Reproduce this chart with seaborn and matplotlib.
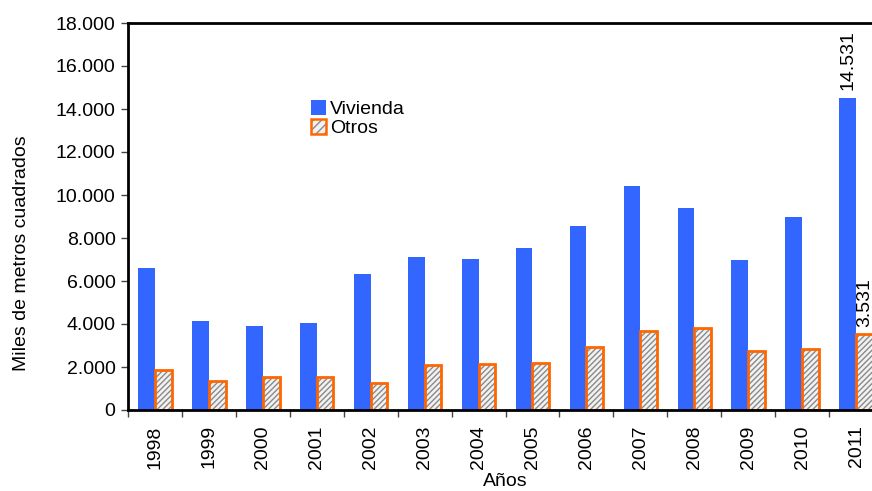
import matplotlib
matplotlib.use("Agg")
import matplotlib.pyplot as plt
import seaborn as sns
import pandas as pd
import numpy as np
from matplotlib.ticker import FuncFormatter, FixedLocator
from matplotlib.patches import Patch, Rectangle
from matplotlib.legend_handler import HandlerBase

years = ["1998", "1999", "2000", "2001", "2002", "2003", "2004",
         "2005", "2006", "2007", "2008", "2009", "2010", "2011"]
vivienda = [6590, 4150, 3890, 4045, 6340, 7100, 7030, 7540, 8560, 10430, 9410, 6980, 8960, 14531]
otros = [1860, 1365, 1530, 1520, 1240, 2080, 2150, 2200, 2950, 3670, 3800, 2745, 2850, 3531]
series_names = ["Vivienda", "Otros"]
yticks = list(range(0, 18001, 2000))

df = pd.DataFrame({
    "Año": years * 2,
    "Valor": vivienda + otros,
    "Serie": [series_names[0]] * len(years) + [series_names[1]] * len(years),
})

sns.set_theme(style="white")
plt.rcParams["font.family"] = ["Liberation Sans", "DejaVu Sans"]
plt.rcParams["hatch.linewidth"] = 1.0
plt.rcParams["text.color"] = "black"
plt.rcParams["axes.labelcolor"] = "black"
plt.rcParams["xtick.color"] = "black"
plt.rcParams["ytick.color"] = "black"

FS = 14
fig = plt.figure(figsize=(8.72, 4.91), dpi=100)
ax = fig.add_axes([128 / 872, 1 - 410 / 491, 755 / 872, (410 - 23) / 491])

blue = "#3366FF"
orange = "#FF6600"
hatch_gray = "#8a8a8a"
fill_light = "#f2f2f2"
sns.barplot(data=df, x="Año", y="Valor", hue="Serie", order=years,
            hue_order=series_names, palette=[blue, fill_light],
            width=0.62, ax=ax, legend=False, saturation=1)

for bar in ax.containers[0]:
    bar.set_edgecolor("none")
for bar in ax.containers[1]:
    bar.set_facecolor(fill_light)
    bar.set_edgecolor(hatch_gray)
    bar.set_linewidth(0)
    bar.set_hatch("//////")
    outline = Rectangle(bar.get_xy(), bar.get_width(), bar.get_height(),
                        facecolor="none", edgecolor=orange, linewidth=2, zorder=bar.get_zorder() + 0.1)
    ax.add_patch(outline)

ax.set_xlim(-0.5, len(years) - 0.5)
ax.set_ylim(0, 18000)
ax.yaxis.set_major_locator(FixedLocator(yticks))
ax.yaxis.set_major_formatter(FuncFormatter(lambda v, p: f"{int(v):,}".replace(",", ".")))

ax.tick_params(axis="y", which="major", direction="out", length=5, width=1,
               color="#444444", labelsize=FS, pad=4, left=True)
ax.tick_params(axis="x", which="major", length=0, labelsize=FS, pad=11,
               labelrotation=90)
ax.xaxis.set_minor_locator(FixedLocator(np.arange(-0.5, len(years), 1.0)))
ax.tick_params(axis="x", which="minor", direction="out", length=5, width=1,
               color="#444444", bottom=True)

for s in ["left", "bottom", "top"]:
    ax.spines[s].set_visible(True)
    ax.spines[s].set_color("black")
    ax.spines[s].set_linewidth(2)
ax.spines["right"].set_visible(False)

ax.set_xlabel("Años", fontsize=FS, labelpad=3)
ax.set_ylabel("Miles de metros cuadrados", fontsize=FS)
ax.yaxis.set_label_coords(-98 / 755, 0.405)

# value labels on last year
last = len(years) - 1
b1 = ax.containers[0][last]
b2 = ax.containers[1][last]
ax.text(b1.get_x() + b1.get_width() / 2, vivienda[last] + 350,
        f"{vivienda[last]:,}".replace(",", "."), rotation=90,
        ha="center", va="bottom", fontsize=FS, clip_on=False)
ax.text(b2.get_x() + b2.get_width() / 2, otros[last] + 350,
        f"{otros[last]:,}".replace(",", "."), rotation=90,
        ha="center", va="bottom", fontsize=FS, clip_on=False)


class HatchBoxHandler(HandlerBase):
    def create_artists(self, legend, orig_handle, xdescent, ydescent,
                       width, height, fontsize, trans):
        r1 = Rectangle((-xdescent, -ydescent), width, height, facecolor=fill_light,
                       edgecolor=hatch_gray, hatch="////", linewidth=0, transform=trans)
        r2 = Rectangle((-xdescent, -ydescent), width, height, facecolor="none",
                       edgecolor=orange, linewidth=1.8, transform=trans)
        return [r1, r2]


handles = [Patch(facecolor=blue, edgecolor="none"), Patch()]
ax.legend(handles, series_names, loc="upper left", bbox_to_anchor=(0.232, 0.82),
          frameon=False, fontsize=FS, handlelength=0.75, handleheight=0.75,
          handletextpad=0.25, labelspacing=0.05, borderaxespad=0,
          handler_map={handles[1]: HatchBoxHandler()})

fig.savefig("out.png", dpi=100)
